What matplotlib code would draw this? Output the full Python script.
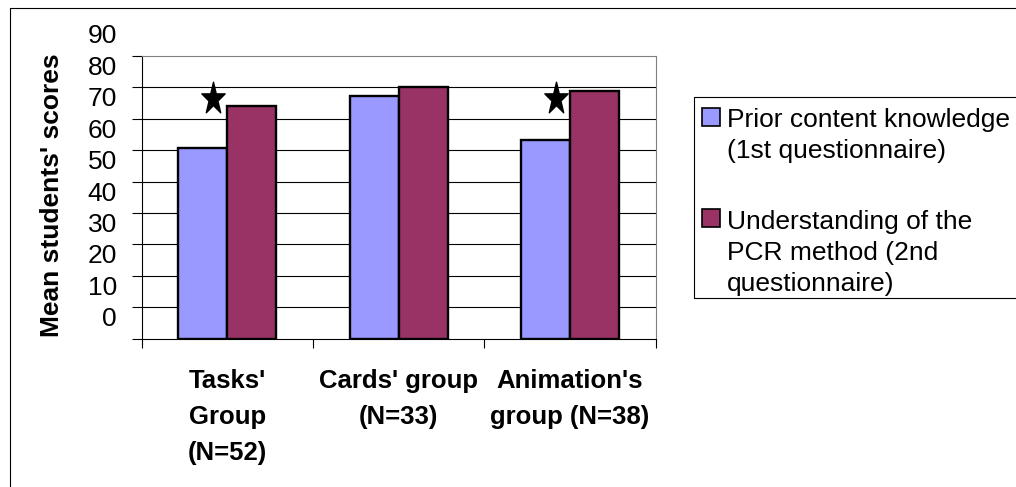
import numpy as np
import matplotlib
matplotlib.use("Agg")
import matplotlib.pyplot as plt
import matplotlib.transforms as mtransforms
from matplotlib.path import Path
from matplotlib.patches import Rectangle
from matplotlib.lines import Line2D

plt.rcParams['font.family'] = ['Liberation Sans', 'DejaVu Sans']

# --- data -------------------------------------------------------------
groups = ["Tasks'\nGroup\n(N=52)", "Cards' group\n(N=33)", "Animation's\ngroup (N=38)"]
prior = [60.6, 77.2, 63.2]            # 1st questionnaire
understanding = [74.1, 80.0, 79.0]    # 2nd questionnaire
series_labels = ["Prior content knowledge\n(1st questionnaire)",
                 "Understanding of the\nPCR method (2nd\nquestionnaire)"]
series_colors = ['#9999FF', '#993366']
star_groups = [0, 2]                  # groups with a significant difference
star_y = [77.0, 77.0]
y_ticks = list(range(0, 100, 10))

# --- figure (pixel layout) ---------------------------------------------
W, H = 1016, 487
fig = plt.figure(figsize=(W / 100, H / 100), dpi=100)


def fx(px):
    return px / W


def fy(py):
    return 1 - py / H


ax = fig.add_axes([fx(141.7), fy(338.7), 514 / W, 282.7 / H])

x = np.arange(len(groups))
bw = 0.286
ax.bar(x - bw / 2, prior, bw, color=series_colors[0], edgecolor='black',
       linewidth=1.7, zorder=3)
ax.bar(x + bw / 2, understanding, bw, color=series_colors[1], edgecolor='black',
       linewidth=1.7, zorder=3)

# tall five-point star marker
ang = np.pi / 2 + np.arange(10) * np.pi / 5
rad = np.where(np.arange(10) % 2 == 0, 1.0, 0.382)
verts = np.column_stack([rad * np.cos(ang), rad * np.sin(ang) * 1.38])
verts[:, 1] -= (verts[:, 1].max() + verts[:, 1].min()) / 2
verts = np.vstack([verts, verts[0]])
star = Path(verts, closed=True)
ax.plot(np.array(star_groups) - 0.083, star_y, linestyle='none', marker=star,
        markersize=22, color='black', zorder=4, clip_on=False)

# gridlines between the axis and the top border
for v in y_ticks[1:-1]:
    ax.axhline(v, color='black', linewidth=0.8, zorder=1)

ax.set_xlim(-0.5, 2.5)
ax.set_ylim(0, 90)
ax.set_yticks(y_ticks)
ax.tick_params(axis='y', direction='out', length=7.2, width=0.8, pad=10.6,
               labelsize=19)
ax.set_xticks(x)
ax.set_xticklabels(groups, fontweight='bold', fontsize=18.5, linespacing=1.62)
ax.set_xticks([-0.5, 0.5, 1.5, 2.5], minor=True)
ax.tick_params(axis='x', which='major', length=0, pad=22)
ax.tick_params(axis='x', which='minor', direction='out', length=6.5, width=0.8)

for side in ('left', 'bottom'):
    ax.spines[side].set_color('black')
    ax.spines[side].set_linewidth(0.8)
for side in ('top', 'right'):
    ax.spines[side].set_color('#808080')
    ax.spines[side].set_linewidth(0.8)

# value labels sit a little above their gridlines
offset = mtransforms.ScaledTranslation(0, 0.22, fig.dpi_scale_trans)
for lab in ax.get_yticklabels():
    lab.set_transform(lab.get_transform() + offset)

ax.set_ylabel("Mean students' scores", fontsize=19, fontweight='bold')
ax.yaxis.set_label_coords(-0.1745, 0.508)
ax.yaxis.label.set_va('center')

# --- legend ------------------------------------------------------------
fig.patches.append(Rectangle((fx(694.3), fy(298.3)), fx(1030) - fx(694.3),
                             (298.3 - 97.3) / H, transform=fig.transFigure,
                             fill=False, edgecolor='black', linewidth=0.8))
for top, color, label in zip([107.7, 209.0], series_colors, series_labels):
    fig.patches.append(Rectangle((fx(701.7), fy(top + 18)), 18.3 / W, 18 / H,
                                 transform=fig.transFigure, facecolor=color,
                                 edgecolor='black', linewidth=1.2))
    fig.text(fx(726.7), fy(top + 0.5), label, fontsize=19, ha='left', va='top',
             linespacing=1.37)

# outer chart border
fig.add_artist(Line2D([fx(10), fx(10), fx(1030)], [fy(500), fy(8), fy(8)],
                      transform=fig.transFigure, color='black', linewidth=0.8))

fig.savefig('out.png', dpi=100)
